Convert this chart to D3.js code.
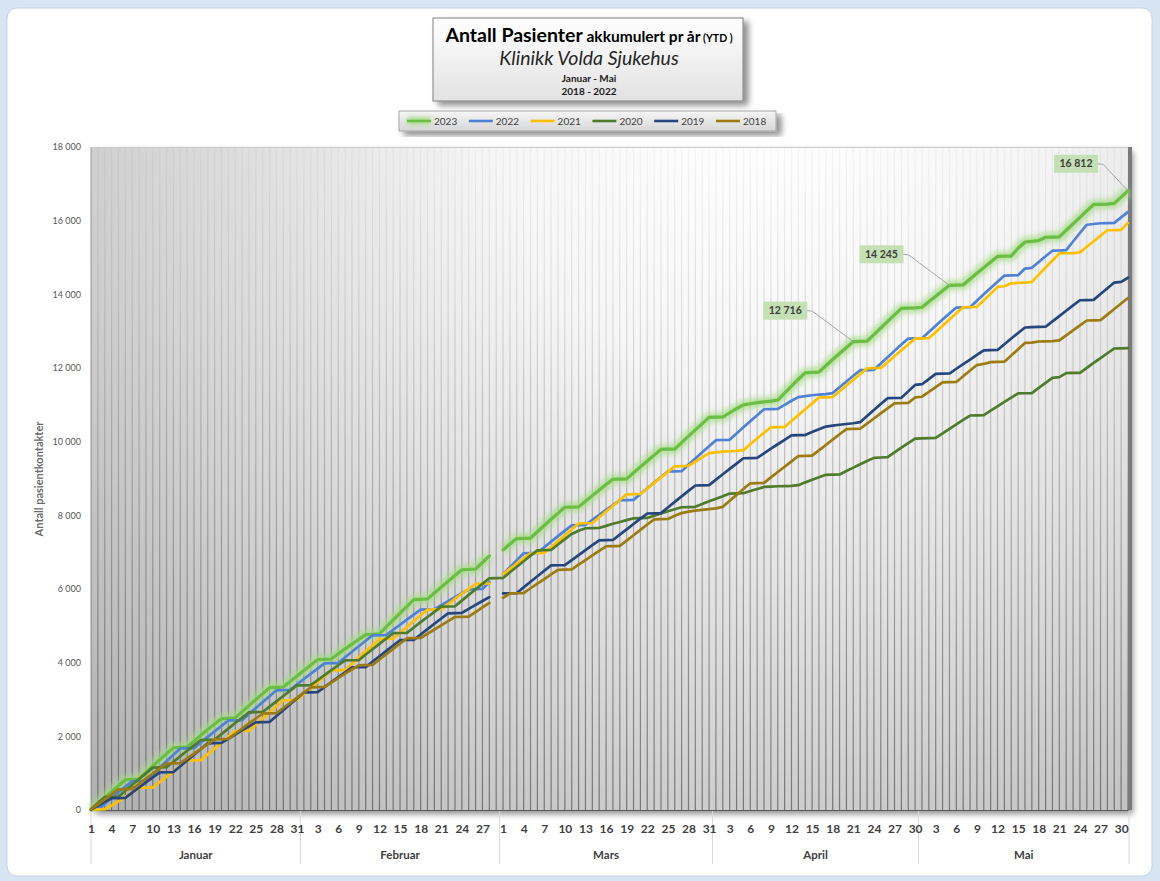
<!DOCTYPE html>
<html>
<head>
<meta charset="utf-8">
<script src="https://cdnjs.cloudflare.com/ajax/libs/d3/7.8.5/d3.min.js"></script>
<style>
  body { margin: 0; background: #d7e5f2; }
  svg { display: block; font-family: Lato, "Open Sans", sans-serif; }
</style>
</head>
<body>
<script>
// maaneder og dager (Februar med 29 dager, 29. feb er tom unntatt 2020)
var months = ["Januar", "Februar", "Mars", "April", "Mai"];
var monthLength = [31, 29, 31, 30, 31];
var seriesNames = ["2023", "2022", "2021", "2020", "2019", "2018"];
var yTicks = [0, 2000, 4000, 6000, 8000, 10000, 12000, 14000, 16000, 18000];
var labelledDays2023 = [111, 125, 151]; // dager med dataetikett paa 2023

// antall nye pasientkontakter per dag (akkumuleres under)
var daily2023 = [10, 150,170,165,165,160, 10,10, 180,175,170,165,160, 10,10, 160,160,155,150,145, 10,10,
  170,165,165,160,160, 10,10, 150,150,150,145,145, 10,10, 140,135,130,130,125, 10,10,
  190,190,185,185,180, 10,10, 160,160,160,155,155, 10,10, 180,180, null,
  160, 160,150, 5,5, 175,170,170,165,160, 5,5, 155,150,150,150,145, 5,5, 165,160,160,160,155, 5,5,
  175,175,170,170,170, 5,5, 115,110,105, 30,30,20,20,30, 190,190,185,175, 10,10,
  170,170,165,161,160, 5,5, 180,180,180,177,177, 5,5, 20, 150,150,150,145, 5,5,
  160,155,155,155,150, 5,5, 210,170,20,20,90, 5,5, 180,175,175,175,175, 5,5, 20, 170, 172];

var daily2022 = [0,10, 160,155,155,150,150, 5,5, 180,180,175,175,170, 5,5, 155,150,150,150,145, 5,5,
  165,165,160,160,160, 5,5, 150,145,145,140,140, 5,5, 155,150,150,150,145, 5,5,
  140,140,140,135,135, 5,5, 110,110,110,105,105, 5,5, 190, null,
  210, 195,190,185, 5,5, 155,150,150,150,145, 5,5, 140,135,135,130,130, 5,5, 160,155,155,150,150, 5,5,
  170,170,170,165,165, 5,5, 170,170,165,165,160, 5,5, 110,110,100, 25,25,15,15,30,
  160,155,155,150, 5,5, 175,170,170,170,165, 5,5, 170,170,165,165,160, 5,5,
  175,175,170,170,170, 5,5, 180,20, 160,155,150, 5,10, 235,230,225, 20,20, 5,5, 150,150];

var daily2021 = [10, 5,5, 100,115,120,120,125, 5,5, 150,145,145,145,145, 5,5, 160,160,160,155,155, 5,5,
  170,165,165,165,165, 5,5, 160,160,160,160,160, 5,5, 170,170,170,165,165, 5,5,
  160,160,160,155,155, 5,5, 140,140,140,135,135, 5,5, null,
  250, 145,145,140,140, 5,5, 160,160,160,160,160, 5,5, 160,155,155,155,155, 5,5, 150,150,150,150,150, 5,5,
  120,115,115, 20,20,10,10,20, 160,155,155,150, 5,5, 160,160,160,160,160, 5,5,
  160,155,155,155,155, 5,5, 160,160,160,160,160, 5,5, 170,170,170,165,165, 5,5,
  180,180,180, 20, 80, 10,10, 20, 195,195,190,190, 5,5, 20, 150,150,150,150, 5,5, 190];

var daily2020 = [20, 170,160, 5,5, 165,160,155,155,155, 5,5, 150,150,150,145,145, 5,5, 150,150,150,145,145, 5,5,
  145,145,145,145,140, 5,5, 135,135,135,135,130, 5,5, 150,145,145,145,145, 5,5,
  145,145,140,140,140, 5,5, 155,155,150,150,150, 5,5,
  155,150,150,150,145, 5,5, 150,145,140,85,70, 5,5, 55,55,50,50,50, 5,5, 60,60,60,55,55, 5,5,
  75,75,70,70,70, 5,5, 60,55,55, 10,10,5,5,20, 75,70,70,65, 5,5, 95,90,90,90,85, 10,10,
  130,125,125,120, 10, 5,5, 125,125,120,120,120, 5,5, 120,120,120,115,115, 5,5,
  140,135,135, 20, 110, 5,5, 135,135,130,130,130, 5,5];

var daily2019 = [10, 105,105,100, 5,5, 140,140,140,135,135, 5,5, 160,155,155,155,155, 5,5, 115,115,110,110,110, 5,5,
  160,160,160,160,160, 5,5, 135,135,135,135,130, 5,5, 150,145,145,145,145, 5,5,
  145,145,145,145,140, 5,5, 110,110,105,105, null,
  100, 5,5, 155,150,150,150,145, 5,5, 135,135,135,135,130, 5,5, 145,145,145,145,140, 5,5,
  155,150,150,150,145, 5,5, 150,145,145,145,145, 5,5, 125,125,120,120,120, 5,5,
  80,75,75, 25,25,20,20,30, 165,165,160,160, 5,5, 175,175, 20, 140,140, 5,5,
  130,125,125,125,125, 5,5, 155,155,150,150, 10, 5,5, 145,145,145,145,140, 5,5, 160,155,155, 20, 110];

var daily2018 = [20, 135,135,135,135, 5,5, 140,140,140,135,135, 5,5, 130,130,130,130,130, 5,5, 140,140,140,135,135, 5,5,
  140,140,140,140,140, 5,5, 120,120,120,115,115, 5,5, 145,145,145,145,140, 5,5,
  115,115,115,115,110, 5,5, 125,125,120, null,
  140, 120, 5,5, 130,125,125,125,125, 5,5, 130,125,125,125,125, 5,5, 145,145,145,145,140, 5,5,
  90,70,40, 30,20,20,20,40, 165,160,160,155, 5,5, 150,145,145,145,145, 5,5,
  145,145,145,145,140, 5,5, 140,140,140,135,135, 5,5, 150, 20, 130,130,130, 5,5,
  155,155,150, 30, 50, 5,5, 170,170,170, 10, 30, 5,5, 20, 135,135,135,135, 5,5, 150,150,150,150];

var dailyCounts = [daily2023, daily2022, daily2021, daily2020, daily2019, daily2018];

// ---- tegning ----
var w = 1160, h = 881;
var pLeft = 91, pRight = 1128, pTop = 147, pBottom = 810;
var farger = ["#6cbd45", "#4f81d4", "#ffc000", "#4e7b2c", "#27467d", "#9c7c12"];

var categories = [];
months.forEach(function (m, mi) {
  for (var d = 1; d <= monthLength[mi]; d++) categories.push({ month: m, day: d });
});

function accumulate(daily) {
  var sum = 0;
  return daily.map(function (v) {
    if (v == null) return null;
    sum += v;
    return sum;
  });
}
var series = seriesNames.map(function (name, k) {
  return { name: name, values: accumulate(dailyCounts[k]) };
});

var svg = d3.select("body").append("svg").attr("width", w).attr("height", h);
var defs = svg.append("defs");

// gradienter og filtre
var bg = defs.append("radialGradient").attr("id", "plotBg")
  .attr("gradientUnits", "userSpaceOnUse").attr("cx", 760).attr("cy", 120).attr("r", 1050);
[[0, "#ffffff"], [0.25, "#f6f6f6"], [0.6, "#d3d3d3"], [1, "#a6a6a6"]].forEach(function (s) {
  bg.append("stop").attr("offset", s[0]).attr("stop-color", s[1]);
});
// striper: svake oeverst, tydelige nederst
var mg = defs.append("linearGradient").attr("id", "stripeGrad")
  .attr("gradientUnits", "userSpaceOnUse").attr("x1", 0).attr("y1", pTop).attr("x2", 0).attr("y2", pBottom);
[[0, "#0a0a0a"], [0.25, "#262626"], [0.55, "#5a5a5a"], [1, "#a8a8a8"]].forEach(function (s) {
  mg.append("stop").attr("offset", s[0]).attr("stop-color", s[1]);
});
defs.append("mask").attr("id", "stripeMask").attr("maskUnits", "userSpaceOnUse")
  .attr("x", 0).attr("y", 0).attr("width", w).attr("height", h)
  .append("rect")
  .attr("x", pLeft).attr("y", pTop).attr("width", pRight - pLeft).attr("height", pBottom - pTop)
  .attr("fill", "url(#stripeGrad)");

var tg = defs.append("linearGradient").attr("id", "boxGrad").attr("x1", 0).attr("y1", 0).attr("x2", 0).attr("y2", 1);
tg.append("stop").attr("offset", 0).attr("stop-color", "#ffffff");
tg.append("stop").attr("offset", 1).attr("stop-color", "#e2e2e2");
var lg = defs.append("linearGradient").attr("id", "legGrad").attr("x1", 0).attr("y1", 0).attr("x2", 0).attr("y2", 1);
lg.append("stop").attr("offset", 0).attr("stop-color", "#f7f7f7");
lg.append("stop").attr("offset", 1).attr("stop-color", "#d6d6d6");

var sh = defs.append("filter").attr("id", "shadow").attr("x", "-10%").attr("y", "-10%").attr("width", "130%").attr("height", "140%");
sh.append("feGaussianBlur").attr("in", "SourceAlpha").attr("stdDeviation", 3);
sh.append("feOffset").attr("dx", 5).attr("dy", 4).attr("result", "off");
sh.append("feComponentTransfer").append("feFuncA").attr("type", "linear").attr("slope", 0.45);
var shm = sh.append("feMerge");
shm.append("feMergeNode");
shm.append("feMergeNode").attr("in", "SourceGraphic");

defs.append("filter").attr("id", "glow").attr("filterUnits", "userSpaceOnUse")
  .attr("x", 0).attr("y", 0).attr("width", w).attr("height", h)
  .append("feGaussianBlur").attr("stdDeviation", 2.4);

// ramme
svg.append("rect").attr("x", 7).attr("y", 8).attr("width", 1145).attr("height", 868).attr("rx", 10)
  .attr("fill", "#ffffff").attr("stroke", "#c3d3e4");

// plotomraade
svg.append("rect").attr("x", pLeft).attr("y", pTop).attr("width", pRight - pLeft).attr("height", pBottom - pTop)
  .attr("fill", "url(#plotBg)").attr("filter", "url(#shadow)");

var xScale = d3.scalePoint().domain(d3.range(categories.length)).range([pLeft, pRight]);
var yScale = d3.scaleLinear().domain([0, 18000]).range([pBottom, pTop]);

svg.append("g").attr("mask", "url(#stripeMask)")
  .selectAll("line").data(d3.range(categories.length)).enter().append("line")
  .attr("x1", function (i) { return xScale(i); })
  .attr("x2", function (i) { return xScale(i); })
  .attr("y1", pTop).attr("y2", pBottom)
  .attr("stroke", "#4a4a4a").attr("stroke-width", 1.2);

svg.append("line").attr("x1", pLeft).attr("x2", pLeft).attr("y1", pTop).attr("y2", pBottom)
  .attr("stroke", "#9a9a9a");
svg.append("line").attr("x1", pLeft).attr("x2", pRight).attr("y1", pTop + 0.5).attr("y2", pTop + 0.5)
  .attr("stroke", "#c8c8c8");
svg.append("rect").attr("x", pRight).attr("y", pTop).attr("width", 4).attr("height", pBottom - pTop)
  .attr("fill", "#7a7a7a");

// maanedsskiller under aksen
var monthStart = [];
var acc = 0;
monthLength.forEach(function (n) { monthStart.push(acc); acc += n; });
var bounds = [pLeft].concat(monthStart.slice(1).map(function (s) {
  return (xScale(s - 1) + xScale(s)) / 2;
})).concat([pRight + 1]);

svg.selectAll(".skille").data(bounds).enter().append("line")
  .attr("x1", function (d) { return d; }).attr("x2", function (d) { return d; })
  .attr("y1", pBottom + 1).attr("y2", 864)
  .attr("stroke", "#d9d9d9");

svg.selectAll(".mnd").data(months).enter().append("text")
  .attr("x", function (d, i) { return (bounds[i] + bounds[i + 1]) / 2; })
  .attr("y", 859)
  .attr("text-anchor", "middle")
  .attr("font-size", 11.5).attr("font-weight", "bold").attr("fill", "#404040")
  .text(function (d) { return d; });

// akser
var xAxis = d3.axisBottom(xScale)
  .tickValues(d3.range(0, categories.length, 3))
  .tickFormat(function (i) { return categories[i].day; })
  .tickSize(0).tickPadding(14);
var gx = svg.append("g").attr("transform", "translate(0," + pBottom + ")").call(xAxis);
gx.select(".domain").attr("stroke", "#595959").attr("stroke-width", 1.2);
gx.selectAll("text").attr("font-size", 12).attr("font-weight", "bold")
  .attr("fill", "#404040").attr("font-family", "Lato, sans-serif");

var yAxis = d3.axisLeft(yScale)
  .tickValues(yTicks)
  .tickFormat(function (v) { return d3.format(",")(v).replace(/,/g, " "); })
  .tickSize(0).tickPadding(10);
var gy = svg.append("g").attr("transform", "translate(" + pLeft + ",0)").call(yAxis);
gy.select(".domain").remove();
gy.selectAll("text").attr("font-size", 9).attr("fill", "#595959").attr("font-family", "Lato, sans-serif");

svg.append("text")
  .attr("transform", "translate(43,479) rotate(-90)")
  .attr("text-anchor", "middle")
  .attr("font-size", 11).attr("font-weight", "bold").attr("fill", "#6b6b6b")
  .text("Antall pasientkontakter");

// linjer
var line = d3.line()
  .defined(function (d) { return d != null; })
  .x(function (d, i) { return xScale(i); })
  .y(function (d) { return yScale(d); });

svg.append("path").attr("d", line(series[0].values))
  .attr("fill", "none").attr("stroke", "#a6dc86").attr("stroke-width", 10)
  .attr("stroke-opacity", 0.75).attr("stroke-linejoin", "round").attr("filter", "url(#glow)");

series.forEach(function (s, k) {
  svg.append("path").attr("d", line(s.values))
    .attr("fill", "none").attr("stroke", farger[k])
    .attr("stroke-width", k === 0 ? 3.2 : 2.7)
    .attr("stroke-linejoin", "round").attr("stroke-linecap", "round");
});

// dataetiketter 2023
var labelOffsets = [[-68, -31], [-68, -31], [-52, -27]];
labelledDays2023.forEach(function (di, j) {
  var px = xScale(di), py = yScale(series[0].values[di]);
  var cx = px + labelOffsets[j][0], cy = py + labelOffsets[j][1];
  svg.append("polyline")
    .attr("points", [[cx + 21, cy], [cx + 27, cy + 0.5], [px, py]].map(function (p) { return p.join(","); }).join(" "))
    .attr("fill", "none").attr("stroke", "#a6a6a6").attr("stroke-width", 1);
  svg.append("rect").attr("x", cx - 22).attr("y", cy - 9).attr("width", 44).attr("height", 18)
    .attr("fill", "#c5e0b4");
  svg.append("text").attr("x", cx).attr("y", cy).attr("dy", "0.35em")
    .attr("text-anchor", "middle").attr("font-size", 10.5).attr("font-weight", "bold")
    .attr("fill", "#3d3d3d")
    .text(d3.format(",")(series[0].values[di]).replace(/,/g, " "));
});

// tittelboks
var tb = svg.append("g");
tb.append("rect").attr("x", 433).attr("y", 18).attr("width", 310).attr("height", 83)
  .attr("fill", "url(#boxGrad)").attr("stroke", "#808080").attr("filter", "url(#shadow)");
var t1 = tb.append("text").attr("x", 589).attr("y", 42).attr("text-anchor", "middle").attr("font-weight", "bold").attr("fill", "#000");
t1.append("tspan").attr("font-size", 19.5).text("Antall Pasienter");
t1.append("tspan").attr("font-size", 15.5).text(" akkumulert pr år");
t1.append("tspan").attr("font-size", 10.5).text(" (YTD )");
tb.append("text").attr("x", 589).attr("y", 65).attr("text-anchor", "middle")
  .attr("font-size", 19.5).attr("font-style", "italic").attr("fill", "#262626").text("Klinikk Volda Sjukehus");
tb.append("text").attr("x", 589).attr("y", 82).attr("text-anchor", "middle")
  .attr("font-size", 10).attr("font-weight", "bold").attr("fill", "#1a1a1a").text("Januar - Mai");
tb.append("text").attr("x", 589).attr("y", 95).attr("text-anchor", "middle")
  .attr("font-size", 10).attr("font-weight", "bold").attr("fill", "#1a1a1a").text("2018 - 2022");

// legende
var leg = svg.append("g");
leg.append("rect").attr("x", 399).attr("y", 111).attr("width", 377).attr("height", 20)
  .attr("fill", "url(#legGrad)").attr("stroke", "#a6a6a6").attr("filter", "url(#shadow)");
seriesNames.forEach(function (name, k) {
  var lx = 407 + 61.8 * k;
  if (k === 0) {
    leg.append("line").attr("x1", lx).attr("x2", lx + 24).attr("y1", 121).attr("y2", 121)
      .attr("stroke", "#a6dc86").attr("stroke-width", 7).attr("filter", "url(#glow)");
  }
  leg.append("line").attr("x1", lx).attr("x2", lx + 24).attr("y1", 121).attr("y2", 121)
    .attr("stroke", farger[k]).attr("stroke-width", 2.6);
  leg.append("text").attr("x", lx + 27).attr("y", 121).attr("dy", "0.35em")
    .attr("font-size", 10).attr("fill", "#404040").text(name);
});
</script>
</body>
</html>
